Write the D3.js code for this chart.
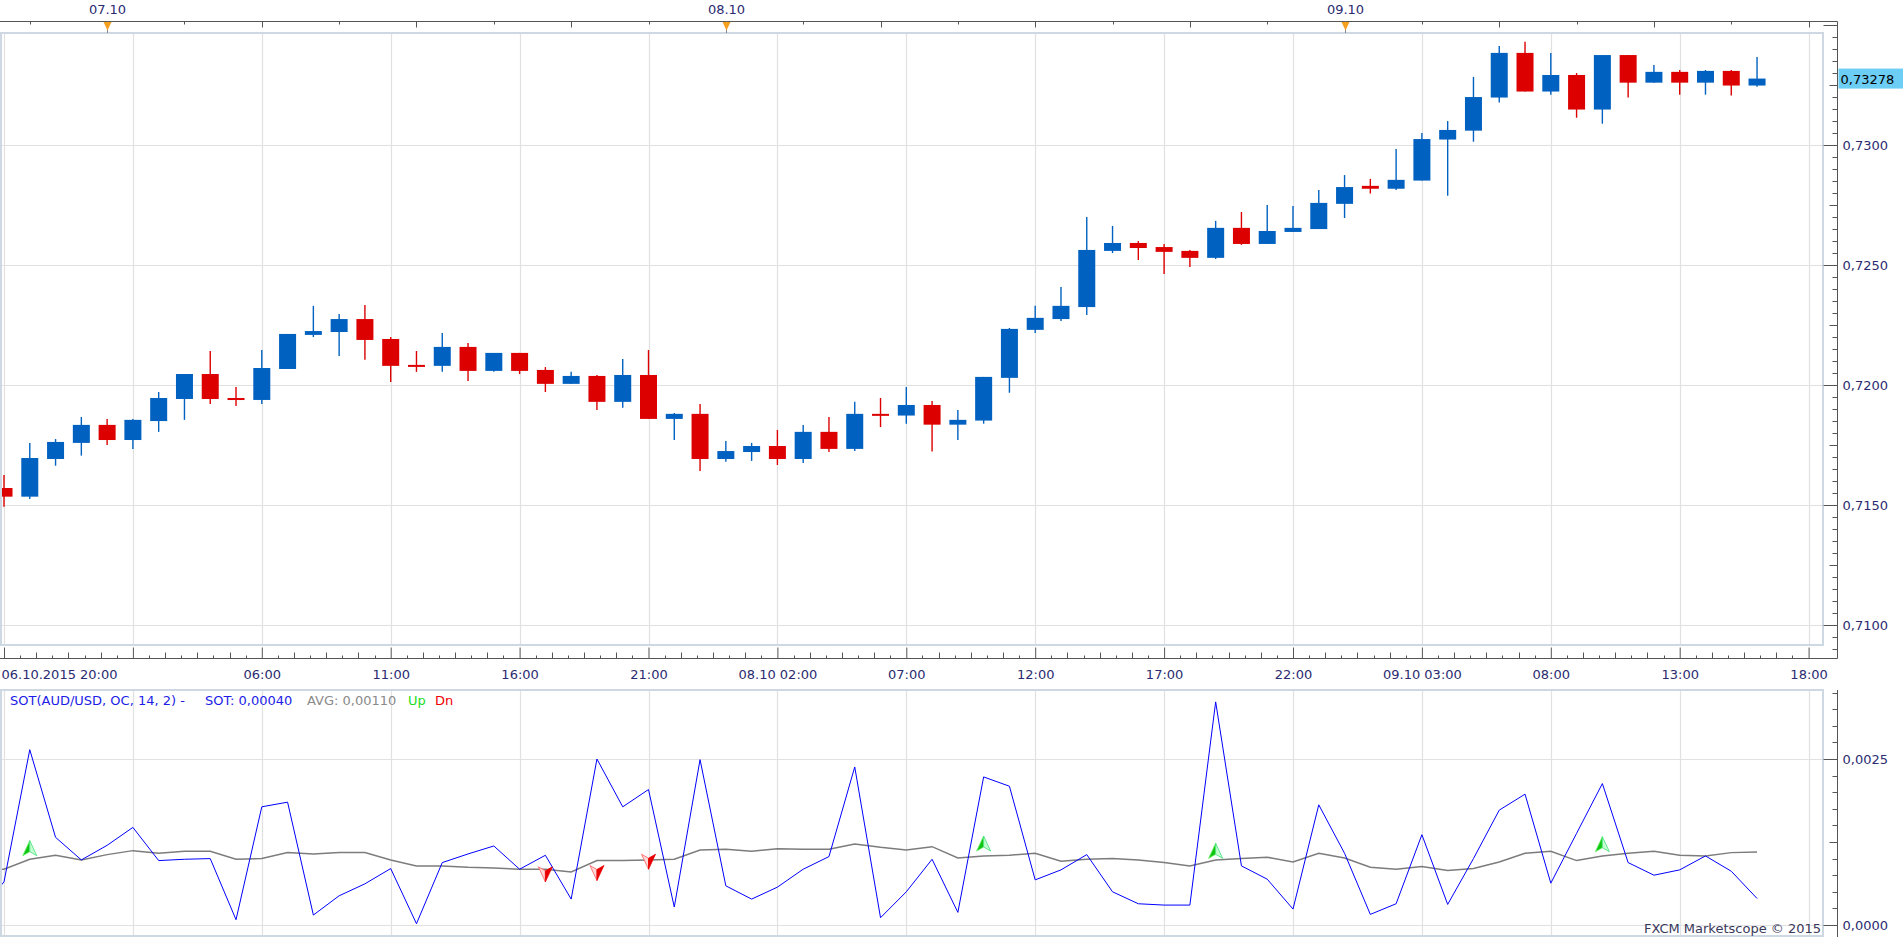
<!DOCTYPE html>
<html>
<head>
<meta charset="utf-8">
<script src="https://cdn.jsdelivr.net/npm/d3@7"></script>
<style>
  body { margin: 0; background: #fff; }
  svg text { font-family: "DejaVu Sans", sans-serif; font-size: 13px; }
</style>
</head>
<body>
<svg id="chart" width="1903" height="937"></svg>
<script>
// AUD/USD hourly candles, 06.10.2015 20:00 -> 09.10.2015 16:00
var opens  = [0.71572,0.71536,0.71693,0.71760,0.71835,0.71772,0.71851,0.71943,0.72047,0.71947,
              0.71939,0.72068,0.72210,0.72222,0.72276,0.72193,0.72085,0.72081,0.72160,0.72060,
              0.72135,0.72064,0.72006,0.72039,0.71931,0.72043,0.71860,0.71881,0.71693,0.71722,
              0.71747,0.71693,0.71806,0.71735,0.71881,0.71874,0.71918,0.71836,0.71853,0.72031,
              0.72231,0.72276,0.72326,0.72560,0.72593,0.72576,0.72560,0.72531,0.72656,0.72589,
              0.72639,0.72651,0.72756,0.72831,0.72819,0.72853,0.73024,0.73061,0.73199,0.73385,
              0.73224,0.73293,0.73149,0.73376,0.73261,0.73306,0.73261,0.73310,0.73249];
var highs  = [0.71626,0.71760,0.71776,0.71868,0.71860,0.71860,0.71972,0.72047,0.72143,0.71993,
              0.72147,0.72214,0.72331,0.72297,0.72335,0.72201,0.72143,0.72218,0.72176,0.72135,
              0.72135,0.72076,0.72056,0.72043,0.72110,0.72147,0.71885,0.71922,0.71768,0.71760,
              0.71814,0.71835,0.71868,0.71931,0.71947,0.71993,0.71935,0.71897,0.72035,0.72239,
              0.72331,0.72410,0.72701,0.72664,0.72601,0.72589,0.72564,0.72685,0.72722,0.72751,
              0.72747,0.72814,0.72876,0.72860,0.72985,0.73051,0.73101,0.73285,0.73414,0.73431,
              0.73385,0.73301,0.73376,0.73376,0.73335,0.73314,0.73314,0.73314,0.73368];
var lows   = [0.71494,0.71526,0.71665,0.71707,0.71751,0.71735,0.71806,0.71856,0.71922,0.71914,
              0.71922,0.72068,0.72201,0.72122,0.72106,0.72014,0.72056,0.72056,0.72018,0.72056,
              0.72047,0.71972,0.72006,0.71897,0.71906,0.71860,0.71772,0.71643,0.71681,0.71685,
              0.71668,0.71676,0.71722,0.71726,0.71826,0.71840,0.71724,0.71772,0.71840,0.71969,
              0.72218,0.72268,0.72293,0.72551,0.72522,0.72464,0.72493,0.72526,0.72585,0.72589,
              0.72639,0.72651,0.72697,0.72799,0.72814,0.72853,0.72790,0.73015,0.73178,0.73224,
              0.73211,0.73115,0.73090,0.73199,0.73261,0.73211,0.73211,0.73207,0.73244];
var closes = [0.71536,0.71697,0.71764,0.71835,0.71772,0.71856,0.71947,0.72047,0.71943,0.71943,
              0.72072,0.72214,0.72226,0.72276,0.72189,0.72081,0.72081,0.72160,0.72060,0.72135,
              0.72060,0.72006,0.72039,0.71931,0.72043,0.71860,0.71881,0.71693,0.71726,0.71747,
              0.71693,0.71806,0.71735,0.71881,0.71875,0.71918,0.71836,0.71856,0.72035,0.72235,
              0.72281,0.72331,0.72564,0.72593,0.72572,0.72556,0.72531,0.72656,0.72589,0.72643,
              0.72656,0.72760,0.72826,0.72819,0.72856,0.73026,0.73064,0.73201,0.73385,0.73224,
              0.73293,0.73149,0.73376,0.73261,0.73306,0.73261,0.73310,0.73249,0.73278];

// SOT indicator, starts one bar before the first candle
var sotValues = [0.00018,0.00065,0.00264,0.00132,0.00098,0.00120,0.00147,0.00097,0.00099,0.00100,
                 0.00008,0.00178,0.00185,0.00015,0.00044,0.00062,0.00085,0.00002,0.00094,0.00107,
                 0.00119,0.00084,0.00105,0.00039,0.00250,0.00178,0.00204,0.00027,0.00249,0.00059,
                 0.00039,0.00057,0.00084,0.00103,0.00238,0.00011,0.00050,0.00099,0.00019,0.00223,
                 0.00209,0.00068,0.00083,0.00106,0.00050,0.00032,0.00030,0.00030,0.00336,0.00089,
                 0.00069,0.00024,0.00181,0.00108,0.00016,0.00032,0.00136,0.00031,0.00100,0.00173,
                 0.00197,0.00063,0.00138,0.00213,0.00094,0.00075,0.00083,0.00104,0.00081,0.00040];
var avgValues = [0.00083,0.00084,0.00099,0.00105,0.00098,0.00106,0.00112,0.00108,0.00111,0.00111,
                 0.00099,0.00100,0.00109,0.00107,0.00109,0.00109,0.00098,0.00089,0.00089,0.00087,
                 0.00086,0.00084,0.00084,0.00080,0.00097,0.00097,0.00098,0.00099,0.00113,0.00114,
                 0.00111,0.00115,0.00114,0.00114,0.00122,0.00117,0.00113,0.00118,0.00101,0.00104,
                 0.00105,0.00108,0.00096,0.00099,0.00100,0.00098,0.00094,0.00089,0.00098,0.00100,
                 0.00102,0.00095,0.00108,0.00101,0.00087,0.00084,0.00088,0.00082,0.00085,0.00095,
                 0.00108,0.00111,0.00097,0.00104,0.00108,0.00111,0.00105,0.00104,0.00109,0.00110];

// signal arrows: candle index and indicator value at the arrow tip
var upSignals = [{i: 1, v: 0.00127}, {i: 38, v: 0.00134}, {i: 47, v: 0.00123}, {i: 62, v: 0.00133}];
var dnSignals = [{i: 21, v: 0.00065}, {i: 23, v: 0.00067}, {i: 25, v: 0.00084}];

var priceTicks = [0.7100, 0.7150, 0.7200, 0.7250, 0.7300];
var sotTicks = [0.0000, 0.0025];
var lastPrice = 0.73278;

var svg = d3.select("#chart");
var plotR = 1823, axisX = 1837.5;
var topAxisY = 21.5, mainTop = 33, mainBot = 645, timeAxisY = 658.5;
var indTop = 690, indBot = 936;

var navy = "#2b2b70", upColor = "#0061c0", dnColor = "#dc0000";
var gridColor = "#e1e1e1", frameColor = "#cdd8e3";

var hour = 3600 * 1000;
var t0 = Date.UTC(2015, 9, 6, 20);
var tEnd = t0 + 70 * hour;

var x = d3.scaleUtc()
  .domain([new Date(t0), new Date(tEnd)])
  .range([4, 4 + 70 * 25.78]);

var yPrice = d3.scaleLinear().domain([0.7100, 0.7300]).range([625.3, 145.3]);
var ySot = d3.scaleLinear().domain([0, 0.0025]).range([925, 759]);

var loc = d3.formatLocale({decimal: ",", thousands: "", grouping: [3], currency: ["", ""]});
var fmt4 = loc.format(".4f"), fmt5 = loc.format(".5f");

var defs = svg.append("defs");
defs.append("clipPath").attr("id", "clipMain").append("rect")
  .attr("x", 1).attr("y", mainTop + 1).attr("width", plotR - 1).attr("height", mainBot - mainTop - 1);
defs.append("clipPath").attr("id", "clipInd").append("rect")
  .attr("x", 1).attr("y", indTop + 1).attr("width", plotR - 1).attr("height", indBot - indTop - 1);

// time ticks every 5 hours
var majorTimes = d3.range(0, 71, 5).map(function(h) { return new Date(t0 + h * hour); });
var minorTimes = [];
majorTimes.slice(0, -1).forEach(function(t) {
  for (var i = 1; i < 8; i++) minorTimes.push({t: new Date(+t + i * 5 * hour / 8), odd: i % 2 == 1});
});

// ---------- grids ----------
function vGrid(top, bot) {
  svg.append("g").selectAll("line").data(majorTimes).enter().append("line")
    .attr("x1", function(d) { return Math.round(x(d)) + 0.5; })
    .attr("x2", function(d) { return Math.round(x(d)) + 0.5; })
    .attr("y1", top).attr("y2", bot)
    .attr("stroke", gridColor).attr("stroke-width", 1.2);
}
vGrid(mainTop, mainBot);
vGrid(indTop, indBot);

svg.append("g").selectAll("line").data(priceTicks).enter().append("line")
  .attr("x1", 1).attr("x2", plotR)
  .attr("y1", function(d) { return Math.round(yPrice(d)) + 0.5; })
  .attr("y2", function(d) { return Math.round(yPrice(d)) + 0.5; })
  .attr("stroke", gridColor).attr("stroke-width", 1.2);

svg.append("g").selectAll("line").data(sotTicks).enter().append("line")
  .attr("x1", 1).attr("x2", plotR)
  .attr("y1", function(d) { return Math.round(ySot(d)) + 0.5; })
  .attr("y2", function(d) { return Math.round(ySot(d)) + 0.5; })
  .attr("stroke", gridColor).attr("stroke-width", 1.2);

// ---------- candles ----------
var bars = opens.map(function(o, i) {
  return {t: new Date(t0 + i * hour), o: o, h: highs[i], l: lows[i], c: closes[i]};
});

var cg = svg.append("g").attr("clip-path", "url(#clipMain)");
var candle = cg.selectAll("g").data(bars).enter().append("g");

candle.append("line")
  .attr("x1", function(d) { return x(d.t); })
  .attr("x2", function(d) { return x(d.t); })
  .attr("y1", function(d) { return yPrice(d.h); })
  .attr("y2", function(d) { return yPrice(d.l); })
  .attr("stroke", function(d) { return d.c >= d.o ? upColor : dnColor; })
  .attr("stroke-width", 1.4);

candle.append("rect")
  .attr("x", function(d) { return x(d.t) - 8.5; })
  .attr("width", 17)
  .attr("y", function(d) { return yPrice(Math.max(d.o, d.c)); })
  .attr("height", function(d) { return Math.max(2, yPrice(Math.min(d.o, d.c)) - yPrice(Math.max(d.o, d.c))); })
  .attr("fill", function(d) { return d.c >= d.o ? upColor : dnColor; });

// ---------- indicator ----------
var ig = svg.append("g").attr("clip-path", "url(#clipInd)");
var sotTime = function(d, i) { return x(new Date(t0 + (i - 1) * hour)); };

ig.append("path")
  .datum(avgValues)
  .attr("fill", "none").attr("stroke", "#7c7c7c").attr("stroke-width", 1.5)
  .attr("d", d3.line().x(sotTime).y(function(d) { return ySot(d); }));

ig.append("path")
  .datum(sotValues)
  .attr("fill", "none").attr("stroke", "#0000ff").attr("stroke-width", 1)
  .attr("d", d3.line().x(sotTime).y(function(d) { return ySot(d); }));

upSignals.forEach(function(s) {
  var cx = x(new Date(t0 + s.i * hour)), ty = ySot(s.v);
  ig.append("path").attr("d", "M" + cx + "," + ty + "L" + (cx - 7) + "," + (ty + 15) + "L" + cx + "," + (ty + 11) + "Z")
    .attr("fill", "#12c412").attr("stroke", "#5cf05c").attr("stroke-width", 0.8);
  ig.append("path").attr("d", "M" + cx + "," + ty + "L" + (cx + 7) + "," + (ty + 15) + "L" + cx + "," + (ty + 11) + "Z")
    .attr("fill", "#c8ffd0").attr("stroke", "#3ee07a").attr("stroke-width", 0.8);
});

dnSignals.forEach(function(s) {
  var cx = x(new Date(t0 + s.i * hour)), ty = ySot(s.v);
  ig.append("path").attr("d", "M" + cx + "," + ty + "L" + (cx - 7) + "," + (ty - 15) + "L" + cx + "," + (ty - 11) + "Z")
    .attr("fill", "#ffd8d8").attr("stroke", "#ff5a5a").attr("stroke-width", 0.8);
  ig.append("path").attr("d", "M" + cx + "," + ty + "L" + (cx + 7) + "," + (ty - 15) + "L" + cx + "," + (ty - 11) + "Z")
    .attr("fill", "#e80000").attr("stroke", "#e80000").attr("stroke-width", 0.8);
});

// ---------- frames ----------
svg.append("rect").attr("x", 1).attr("y", mainTop).attr("width", plotR - 1).attr("height", mainBot - mainTop)
  .attr("fill", "none").attr("stroke", frameColor).attr("stroke-width", 2);
svg.append("rect").attr("x", 1).attr("y", indTop).attr("width", plotR - 1).attr("height", indBot - indTop)
  .attr("fill", "none").attr("stroke", frameColor).attr("stroke-width", 2);

// ---------- top date strip ----------
svg.append("line").attr("x1", 0).attr("x2", axisX).attr("y1", topAxisY).attr("y2", topAxisY)
  .attr("stroke", "#555").attr("stroke-width", 1);

var topTicks = d3.utcHour.every(3).range(new Date(t0), new Date(tEnd + 1));
svg.append("g").selectAll("line").data(topTicks.filter(function(d) { return d.getUTCHours() != 0; }))
  .enter().append("line")
  .attr("x1", function(d) { return Math.round(x(d)) + 0.5; })
  .attr("x2", function(d) { return Math.round(x(d)) + 0.5; })
  .attr("y1", topAxisY)
  .attr("y2", function(d) { return topAxisY + (d.getUTCHours() % 6 == 0 ? 6 : 3); })
  .attr("stroke", "#555");

var days = topTicks.filter(function(d) { return d.getUTCHours() == 0; });
var dayG = svg.append("g").selectAll("g").data(days).enter().append("g")
  .attr("transform", function(d) { return "translate(" + Math.round(x(d)) + ",0)"; });
dayG.append("line").attr("x1", 0.5).attr("x2", 0.5).attr("y1", topAxisY).attr("y2", mainTop)
  .attr("stroke", "#888");
dayG.append("path").attr("d", "M-3.5," + (topAxisY + 0.5) + "L4.5," + (topAxisY + 0.5) + "L0.5," + (topAxisY + 9) + "Z")
  .attr("fill", "#f5a020");
dayG.append("text").attr("x", 0.5).attr("y", 14).attr("text-anchor", "middle").attr("fill", navy)
  .text(d3.utcFormat("%d.%m"));

// ---------- time axis ----------
var timeAxis = d3.axisBottom(x)
  .tickValues(majorTimes)
  .tickSize(-11)
  .tickPadding(11)
  .tickFormat(function(d, i) {
    if (i == 0) return d3.utcFormat("%d.%m.%Y %H:%M")(d);
    if (i == 1) return "";
    return d.getUTCHours() < 5 ? d3.utcFormat("%d.%m %H:%M")(d) : d3.utcFormat("%H:%M")(d);
  });

var tg = svg.append("g").attr("transform", "translate(0," + timeAxisY + ")").call(timeAxis);
tg.select(".domain").remove();
tg.selectAll("line").attr("stroke", "#555");
tg.selectAll("text").attr("font-size", null).attr("font-family", null).attr("fill", navy);
tg.select(".tick text").attr("text-anchor", "start").attr("x", -3);

svg.append("g").selectAll("line").data(minorTimes).enter().append("line")
  .attr("x1", function(d) { return Math.round(x(d.t)) + 0.5; })
  .attr("x2", function(d) { return Math.round(x(d.t)) + 0.5; })
  .attr("y1", function(d) { return timeAxisY - (d.odd ? 3 : 6); })
  .attr("y2", timeAxisY)
  .attr("stroke", "#555");

svg.append("line").attr("x1", 0).attr("x2", axisX).attr("y1", timeAxisY).attr("y2", timeAxisY)
  .attr("stroke", "#555");

// ---------- price axis ----------
svg.append("line").attr("x1", axisX).attr("x2", axisX).attr("y1", topAxisY).attr("y2", timeAxisY)
  .attr("stroke", "#555");

var priceMinor = d3.range(0.7090, 0.7350, 0.0005);
svg.append("g").selectAll("line").data(priceMinor.filter(function(d) { return yPrice(d) > topAxisY + 2 && yPrice(d) < timeAxisY - 2; }))
  .enter().append("line")
  .attr("x1", function(d) {
    var m = Math.round(d * 10000);
    return axisX - (m % 50 == 0 ? 14 : (m % 25 == 0 ? 8 : 5));
  })
  .attr("x2", axisX)
  .attr("y1", function(d) { return Math.round(yPrice(d)) + 0.5; })
  .attr("y2", function(d) { return Math.round(yPrice(d)) + 0.5; })
  .attr("stroke", "#555");

var pa = d3.axisRight(yPrice).tickValues(priceTicks).tickSize(0).tickPadding(5).tickFormat(fmt4);
var pg = svg.append("g").attr("transform", "translate(" + axisX + ",0)").call(pa);
pg.select(".domain").remove();
pg.selectAll("text").attr("font-size", null).attr("font-family", null).attr("fill", navy);

// last price box
var ly = yPrice(lastPrice);
svg.append("rect").attr("x", axisX + 1).attr("y", ly - 10).attr("width", 1903 - axisX).attr("height", 20)
  .attr("fill", "#6ccdf5");
svg.append("text").attr("x", axisX + 3).attr("y", ly + 5).attr("fill", "#000").text(fmt5(lastPrice));

// ---------- indicator axis ----------
svg.append("line").attr("x1", axisX).attr("x2", axisX).attr("y1", indTop).attr("y2", 937)
  .attr("stroke", "#555");

var sotMinor = d3.range(0, 0.00351, 0.00025);
svg.append("g").selectAll("line").data(sotMinor).enter().append("line")
  .attr("x1", function(d) {
    var m = Math.round(d * 100000);
    return axisX - (m % 250 == 0 ? 14 : (m % 125 == 0 ? 8 : 5));
  })
  .attr("x2", axisX)
  .attr("y1", function(d) { return Math.round(ySot(d)) + 0.5; })
  .attr("y2", function(d) { return Math.round(ySot(d)) + 0.5; })
  .attr("stroke", "#555");

var sa = d3.axisRight(ySot).tickValues(sotTicks).tickSize(0).tickPadding(5).tickFormat(fmt4);
var sg = svg.append("g").attr("transform", "translate(" + axisX + ",0)").call(sa);
sg.select(".domain").remove();
sg.selectAll("text").attr("font-size", null).attr("font-family", null).attr("fill", navy);

// ---------- indicator legend ----------
var legY = 705;
svg.append("text").attr("x", 10).attr("y", legY).attr("fill", "#1c1ce6").text("SOT(AUD/USD, OC, 14, 2) -");
svg.append("text").attr("x", 205).attr("y", legY).attr("fill", "#1c1ce6").text("SOT: " + fmt5(sotValues[sotValues.length - 1]));
svg.append("text").attr("x", 307).attr("y", legY).attr("fill", "#8a8a8a").text("AVG: " + fmt5(avgValues[avgValues.length - 1]));
svg.append("text").attr("x", 408).attr("y", legY).attr("fill", "#22dd22").text("Up");
svg.append("text").attr("x", 435).attr("y", legY).attr("fill", "#ee0000").text("Dn");

svg.append("text").attr("x", 1821).attr("y", 933).attr("text-anchor", "end").attr("fill", "#3a3a5a")
  .text("FXCM Marketscope \u00a9 2015");
</script>
</body>
</html>
